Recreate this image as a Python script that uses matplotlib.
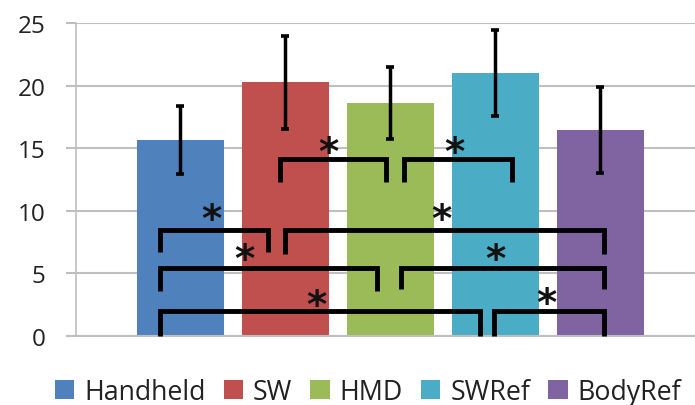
import matplotlib
matplotlib.use("Agg")
import matplotlib.pyplot as plt

categories = ["Handheld", "SW", "HMD", "SWRef", "BodyRef"]
means = [15.65, 20.25, 18.6, 21.0, 16.45]
errors = [2.75, 3.75, 2.9, 3.45, 3.4]
colors = ["#4F81BD", "#C0504D", "#9BBB59", "#4BACC6", "#8064A2"]
yticks = [0, 5, 10, 15, 20, 25]

# significance brackets: (x_left, x_right, y_top, y_left_bottom, y_right_bottom), star (x, y)
brackets = [
    (0.948, 1.957, 14.14, 12.28, 12.28),
    (2.131, 3.154, 14.14, 12.28, 12.28),
    (-0.195, 0.836, 8.49, 6.71, 6.71),
    (1.0, 4.036, 8.49, 6.55, 6.55),
    (-0.195, 1.874, 5.47, 3.62, 3.62),
    (2.097, 4.036, 5.47, 3.75, 3.75),
    (-0.195, 2.852, 2.0, 0.0, 0.0),
    (2.989, 4.036, 2.0, 0.0, 0.0),
]
stars = [
    (1.408, 15.5), (2.608, 15.55), (0.297, 10.2), (2.488, 10.2),
    (0.605, 7.0), (2.995, 6.96), (1.297, 3.3), (3.488, 3.48),
]

plt.rcParams['font.family'] = ['Open Sans', 'DejaVu Sans']

fig = plt.figure(figsize=(6.95, 4.06), dpi=100)
W, H = 695, 406
ax = fig.add_axes([76 / W, (H - 337) / H, (695 - 76) / W, (337 - 24) / H])

positions = list(range(len(categories)))
for i, (cat, m, e, c) in enumerate(zip(categories, means, errors, colors)):
    ax.bar(positions[i], m, width=0.83, color=c, label=cat, zorder=2)
    ax.errorbar(positions[i], m, yerr=e, fmt='none', ecolor='black',
                elinewidth=2.5, capsize=3.0, capthick=2.6, zorder=3)

for (x1, x2, yt, yb1, yb2) in brackets:
    ax.plot([x1, x1, x2, x2], [yb1, yt, yt, yb2], color='black', lw=3.5,
            solid_joinstyle='miter', solid_capstyle='butt', zorder=4, clip_on=False)
star_fs = 28
for (sx, sy) in stars:
    ax.annotate("*", (sx, sy), xytext=(0, -0.58 * star_fs), textcoords='offset points',
                ha='center', va='baseline', fontsize=star_fs,
                fontweight='bold', color='#111111', family='DejaVu Sans', zorder=5)

ax.set_xlim(-0.995, 4.9)
ax.set_ylim(0, 25)
ax.set_yticks(yticks)
ax.set_xticks([])
ax.yaxis.grid(True, color='#BFBFBF', lw=1.5, zorder=0)
ax.set_axisbelow(True)
for s in ['top', 'right']:
    ax.spines[s].set_visible(False)
ax.spines['left'].set_color('#BFBFBF')
ax.spines['left'].set_linewidth(1.2)
ax.spines['bottom'].set_color('#BFBFBF')
ax.spines['bottom'].set_linewidth(1.5)
ax.tick_params(axis='y', length=7.2, width=1.5, color='#BFBFBF', pad=15,
               labelsize=17.5, labelcolor='#222222')

fig.legend(loc='center', bbox_to_anchor=(368 / W, (H - 393) / H), ncol=5,
           frameon=False, fontsize=19.3, handlelength=0.72, handleheight=0.72,
           handletextpad=0.37, columnspacing=0.68, borderaxespad=0, borderpad=0,
           labelcolor='#222222')

fig.savefig("out.png", dpi=100)
